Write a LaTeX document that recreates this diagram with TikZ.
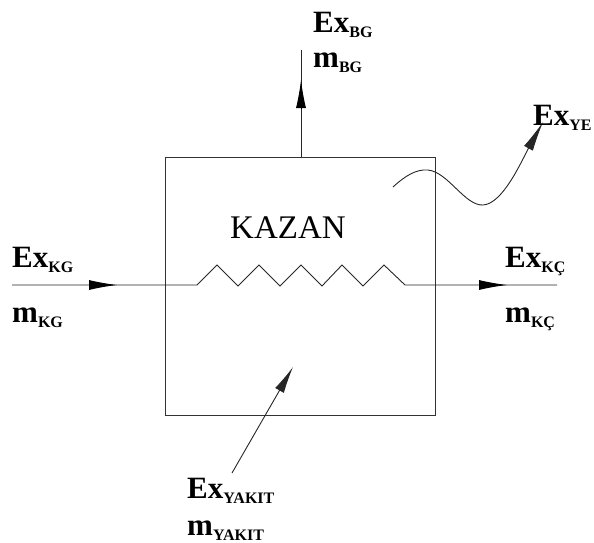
\documentclass[tikz,border=0pt]{standalone}
\usepackage{fontspec}
\setmainfont{Liberation Serif}
\usetikzlibrary{arrows.meta}
\newcommand\exlbl[2]{#1\raisebox{-5pt}{\fontsize{16}{16}\selectfont #2}}
\tikzset{
  lbl/.style={anchor=base west, inner sep=0pt, font=\fontsize{31}{31}\selectfont\bfseries},
  ln/.style={line width=0.9pt, draw=black!85},
  hd/.style={-{Latex[length=28pt,width=10pt]}, line width=0.9pt},
}
\begin{document}
\begin{tikzpicture}[x=1pt,y=-1pt]
\useasboundingbox (0,0) rectangle (594,543);
% box
\node[draw=black!80, line width=0.9pt, minimum width=270pt, minimum height=258pt, inner sep=0pt, anchor=north west] (box) at (165,157) {};
\node[anchor=base west, inner sep=0pt, font=\fontsize{33}{33}\selectfont] (kazan) at (230,238) {KAZAN};
% coordinates
\coordinate (inL) at (12,285);
\coordinate (inT) at (117,285);
\coordinate (zs) at (197,285);
\coordinate (ze) at (405,285);
\coordinate (outT) at (507,285);
\coordinate (outR) at (557,285);
\coordinate (topB) at (301,157);
\coordinate (topE) at (301,50);
\coordinate (topT) at (301,80);
% horizontal pipe with zigzag
\draw[ln] (inL) -- (zs) -- (217,265) -- (238,286) -- (259,265) -- (280,286) -- (301,265) -- (322,286) -- (342,265) -- (363,286) -- (384,265) -- (ze) -- (outR);
\draw[hd] (89,285) -- (inT);
\draw[hd] (479,285) -- (outT);
% top
\draw[ln] (topB) -- (topE);
\draw[hd] (301,108) -- (topT);
% wave
\coordinate (ws) at (393,187);
\coordinate (wt) at (543,122);
\draw[ln, -{Latex[length=30pt,width=10pt]}] (ws) .. controls (405,176) and (416,169) .. (428,170)
  .. controls (448,172) and (465,206) .. (483,205)
  .. controls (503,204) and (522,160) .. (wt);
% fuel
\coordinate (fs) at (232,473);
\coordinate (ft) at (293,367);
\draw[ln, -{Latex[length=27pt,width=10pt]}] (fs) -- (ft);
% labels
\node[lbl] (exbg) at (313,33) {\exlbl{Ex}{BG}};
\node[lbl] (mbg) at (313,67) {\exlbl{m}{BG}};
\node[lbl] (exkg) at (12,267) {\exlbl{Ex}{KG}};
\node[lbl] (mkg) at (12,322) {\exlbl{m}{KG}};
\node[lbl] (exkc) at (505,267) {\exlbl{Ex}{KÇ}};
\node[lbl] (mkc) at (505,322) {\exlbl{m}{KÇ}};
\node[lbl] (exye) at (533,125) {\exlbl{Ex}{YE}};
\node[lbl] (exyk) at (187,498) {\exlbl{Ex}{YAKIT}};
\node[lbl] (myk) at (187,535) {\exlbl{m}{YAKIT}};
\end{tikzpicture}
\end{document}
